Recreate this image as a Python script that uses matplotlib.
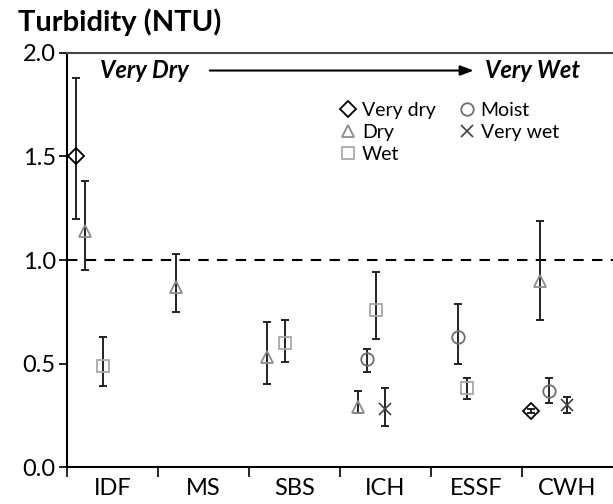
import numpy as np
import matplotlib
matplotlib.use('Agg')
import matplotlib.pyplot as plt

plt.rcParams['font.family'] = ['Lato', 'DejaVu Sans']

zones = ['IDF', 'MS', 'SBS', 'ICH', 'ESSF', 'CWH']

# mean, lower, upper per zone  (NaN = no sample)
very_dry = [1.50, np.nan, np.nan, np.nan, np.nan, 0.27]
very_dry_lo = [1.20, np.nan, np.nan, np.nan, np.nan, 0.26]
very_dry_hi = [1.88, np.nan, np.nan, np.nan, np.nan, 0.28]

dry = [1.14, 0.87, 0.53, 0.29, np.nan, 0.90]
dry_lo = [0.95, 0.75, 0.40, 0.26, np.nan, 0.71]
dry_hi = [1.38, 1.03, 0.70, 0.37, np.nan, 1.19]

moist = [np.nan, np.nan, np.nan, 0.52, 0.63, 0.37]
moist_lo = [np.nan, np.nan, np.nan, 0.46, 0.50, 0.31]
moist_hi = [np.nan, np.nan, np.nan, 0.57, 0.79, 0.43]

wet = [0.49, np.nan, 0.60, 0.76, 0.38, np.nan]
wet_lo = [0.39, np.nan, 0.51, 0.62, 0.33, np.nan]
wet_hi = [0.63, np.nan, 0.71, 0.94, 0.43, np.nan]

very_wet = [np.nan, np.nan, np.nan, 0.28, np.nan, 0.30]
very_wet_lo = [np.nan, np.nan, np.nan, 0.20, np.nan, 0.26]
very_wet_hi = [np.nan, np.nan, np.nan, 0.38, np.nan, 0.34]

series = [
    ('Very dry', very_dry, very_dry_lo, very_dry_hi, 'D', '#000000', 0.1, 8),
    ('Dry', dry, dry_lo, dry_hi, '^', '#8c8c8c', 0.2, 9),
    ('Moist', moist, moist_lo, moist_hi, 'o', '#707070', 0.3, 9),
    ('Wet', wet, wet_lo, wet_hi, 's', '#a8a8a8', 0.4, 8),
    ('Very wet', very_wet, very_wet_lo, very_wet_hi, 'x', '#404040', 0.5, 8),
]

fig = plt.figure(figsize=(6.13, 5.04), dpi=100)
ax = fig.add_axes([0.109, 0.073, 0.891, 0.822])

x0 = np.arange(len(zones))
handles = {}
for name, m, lo, hi, mk, col, off, ms in series:
    m = np.array(m); lo = np.array(lo); hi = np.array(hi)
    ok = ~np.isnan(m)
    xs = x0[ok] + off
    ax.errorbar(xs, m[ok], yerr=[m[ok] - lo[ok], hi[ok] - m[ok]], fmt='none',
                ecolor='#222222', elinewidth=1.4, capsize=3, capthick=1.4, zorder=2)
    if mk == 'x':
        h = ax.plot(xs, m[ok], linestyle='none', marker=mk, markersize=ms,
                    color=col, markeredgewidth=1.2, zorder=3, label=name)[0]
    else:
        h = ax.plot(xs, m[ok], linestyle='none', marker=mk, markersize=ms,
                    markerfacecolor='none', markeredgecolor=col,
                    markeredgewidth=1.3, zorder=3, label=name)[0]
    handles[name] = h

ax.axhline(1.0, color='black', linestyle=(0, (5, 4)), linewidth=1.5, zorder=1)

ax.set_xlim(0, 6)
ax.set_ylim(0, 2.0)
ax.set_yticks([0.0, 0.5, 1.0, 1.5, 2.0])
ax.set_yticklabels(['0.0', '0.5', '1.0', '1.5', '2.0'])
ax.set_xticks(np.arange(0, 6))
ax.set_xticklabels([])
ax.set_xticks(x0 + 0.5, minor=True)
ax.set_xticklabels(zones, minor=True)
ax.tick_params(axis='x', which='minor', length=0, labelsize=17, pad=8)
ax.tick_params(axis='x', which='major', length=7, width=1.2)
ax.tick_params(axis='y', length=6, width=1.2, labelsize=17, pad=2)

for s in ['left', 'bottom', 'top']:
    ax.spines[s].set_linewidth(1.5)
ax.spines['top'].set_color('#444444')
ax.spines['right'].set_visible(False)

ax.text(0.36, 1.915, 'Very Dry', fontsize=17, fontweight='bold', style='italic',
        ha='left', va='center')
ax.text(5.12, 1.915, 'Very Wet', fontsize=17, fontweight='bold', style='italic',
        ha='center', va='center')
ax.annotate('', xy=(4.47, 1.915), xytext=(1.57, 1.915),
            arrowprops=dict(arrowstyle='-|>,head_length=0.8,head_width=0.3',
                            color='black', lw=1.5, shrinkA=0, shrinkB=0))

order = ['Very dry', 'Dry', 'Wet', 'Moist', 'Very wet']
ax.legend([handles[k] for k in order], order, ncol=2, frameon=False,
          loc='upper left', bbox_to_anchor=(0.48, 0.9), fontsize=14,
          handletextpad=0.1, labelspacing=0.25, columnspacing=1.0,
          handlelength=1.2, borderaxespad=0)

fig.text(0.03, 0.955, 'Turbidity (NTU)', fontsize=21, fontweight='bold',
         ha='left', va='center')

fig.savefig('out.png', dpi=100)
